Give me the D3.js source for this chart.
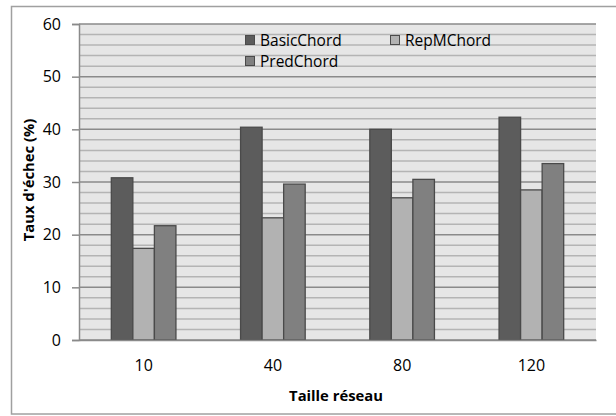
<!DOCTYPE html>
<html><head><meta charset="utf-8">
<script src="https://cdn.jsdelivr.net/npm/d3@7"></script>
<style>body{margin:0;background:#fff}svg{display:block}text{font-family:"Open Sans",Lato,sans-serif}</style>
</head><body><svg id="c" width="616" height="416"></svg>
<script>
const categories = ["10","40","80","120"];
const seriesNames = ["BasicChord","RepMChord","PredChord"];
const basicChord = [30.8,40.4,40.0,42.3];
const repMChord = [17.4,23.2,27.0,28.5];
const predChord = [21.7,29.6,30.5,33.5];
const yTicks = [0,10,20,30,40,50,60];
const colors = ["#5c5c5c","#b2b2b2","#808080"];
const series = [basicChord, repMChord, predChord];
const FF = "'Open Sans',Lato,sans-serif";

const svg = d3.select("#c");
const L=79, R=596, T=24, B=340;
svg.append("rect").attr("x",11.5).attr("y",6.5).attr("width",620).attr("height",407.5)
  .attr("fill","#fff").attr("stroke","#a0a0a0").attr("stroke-width",1.5);
svg.append("rect").attr("x",L).attr("y",T).attr("width",R-L).attr("height",B-T).attr("fill","#e6e6e6");

const y = d3.scaleLinear().domain([0,60]).range([B,T]);
const x0 = d3.scaleBand().domain(categories).range([L,R]);
const x1 = d3.scaleBand().domain(seriesNames).range([0,x0.bandwidth()]).paddingOuter(1.5);

// minor grid
const minor = d3.range(0,61,2).filter(v=>v%10!==0);
svg.append("g").selectAll("line").data(minor).join("line")
  .attr("x1",L).attr("x2",R).attr("y1",d=>y(d)).attr("y2",d=>y(d))
  .attr("stroke","#b4b4b4").attr("stroke-width",1.5);
svg.append("g").selectAll("line").data(yTicks).join("line")
  .attr("x1",L).attr("x2",R).attr("y1",d=>y(d)).attr("y2",d=>y(d))
  .attr("stroke","#8a8a8a").attr("stroke-width",1.5);

// y axis
const ya = svg.append("g").attr("transform",`translate(${L},0)`)
  .call(d3.axisLeft(y).tickValues(yTicks).tickSize(7).tickPadding(11));
ya.select(".domain").attr("stroke","#8a8a8a").attr("stroke-width",1.5);
ya.selectAll(".tick line").attr("stroke","#8a8a8a").attr("stroke-width",1.5);
ya.selectAll("text").attr("font-size",16).attr("fill","#000").attr("font-family",FF);

// bars
const g = svg.append("g");
categories.forEach((c,i)=>{
  series.forEach((s,j)=>{
    g.append("rect").attr("x",x0(c)+x1(seriesNames[j])).attr("y",y(s[i]))
     .attr("width",x1.bandwidth()).attr("height",B-y(s[i]))
     .attr("fill",colors[j]).attr("stroke","#4a4a4a").attr("stroke-width",1.3);
  });
});

// x axis
const xa = svg.append("g").attr("transform",`translate(0,${B})`)
  .call(d3.axisBottom(x0).tickSize(0).tickPadding(20));
xa.select(".domain").attr("stroke","#8a8a8a").attr("stroke-width",1.5);
xa.selectAll("text").attr("font-size",16).attr("fill","#000").attr("font-family",FF);

// titles
svg.append("text").attr("transform",`translate(34,180) rotate(-90)`).attr("text-anchor","middle")
  .attr("font-size",14.8).attr("font-weight","bold").text("Taux d'échec (%)");
svg.append("text").attr("x",336).attr("y",401).attr("text-anchor","middle")
  .attr("font-size",14.8).attr("font-weight","bold").text("Taille réseau");

// legend
const leg = [{n:"BasicChord",x:245,y:35,c:colors[0]},{n:"RepMChord",x:390,y:35,c:colors[1]},{n:"PredChord",x:245,y:56,c:colors[2]}];
leg.forEach(d=>{
  svg.append("rect").attr("x",d.x+0.5).attr("y",d.y+0.5).attr("width",9).attr("height",9)
    .attr("fill",d.c).attr("stroke","#4a4a4a").attr("stroke-width",1);
  svg.append("text").attr("x",d.x+15).attr("y",d.y+10.5).attr("font-size",15.5).attr("fill","#000").text(d.n);
});
</script></body></html>
